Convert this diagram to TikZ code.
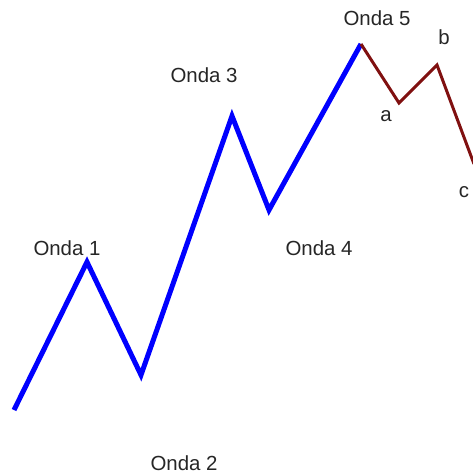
\documentclass[tikz,border=0pt]{standalone}
\usepackage{fontspec}
\setmainfont{Liberation Sans}
\definecolor{wave}{RGB}{0,0,255}
\definecolor{corr}{RGB}{128,16,16}
\tikzset{
  impulse/.style={draw=wave, line width=5bp, line join=miter, line cap=butt},
  correction/.style={draw=corr, line width=3bp, line join=miter},
  lbl/.style={font=\fontsize{20.5}{22}\selectfont, text=black!85, inner sep=0pt}
}
\begin{document}
\begin{tikzpicture}[x=1bp,y=-1bp]
\useasboundingbox (0,0) rectangle (473,475);
\coordinate (s) at (14,410);
\coordinate (p1) at (87,262);
\coordinate (p2) at (141,375);
\coordinate (p3) at (232,116);
\coordinate (p4) at (269,210);
\coordinate (p5) at (361,44);
\coordinate (pa) at (399,103);
\coordinate (pb) at (437,65);
\coordinate (pc) at (474,164);
\draw[impulse] (s) -- (p1) -- (p2) -- (p3) -- (p4) -- (p5);
\draw[correction] (p5) -- (pa) -- (pb) -- (pc);
\node[lbl] (l1) at (67,248) {Onda 1};
\node[lbl] (l2) at (184,463) {Onda 2};
\node[lbl] (l3) at (204,75) {Onda 3};
\node[lbl] (l4) at (319,248) {Onda 4};
\node[lbl] (l5) at (377,18) {Onda 5};
\node[lbl] (la) at (386,116) {a};
\node[lbl] (lb) at (444,37) {b};
\node[lbl] (lc) at (464,192) {c};
\end{tikzpicture}
\end{document}
